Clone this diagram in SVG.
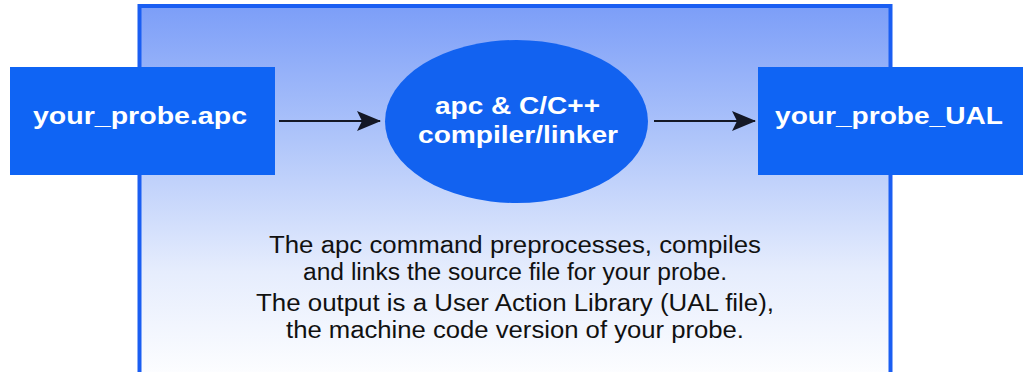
<svg xmlns="http://www.w3.org/2000/svg" width="1027" height="372" viewBox="0 0 1027 372">
  <defs>
    <linearGradient id="panelGrad" x1="0" y1="0" x2="0" y2="1">
      <stop offset="0" stop-color="#7c9ef8"/>
      <stop offset="0.35" stop-color="#afc5fa"/>
      <stop offset="0.7" stop-color="#e6edfd"/>
      <stop offset="1" stop-color="#ffffff"/>
    </linearGradient>
    <marker id="arrow" viewBox="0 0 24 20" refX="23" refY="10" markerWidth="24" markerHeight="20" markerUnits="userSpaceOnUse" orient="auto">
      <path d="M0,0 L24,10 L0,20 L5,10 Z" fill="#141826"/>
    </marker>
    <style>
      .box { fill: #0f64f4; }
      .label { font-family: "Liberation Sans", Arial, sans-serif; font-weight: bold; fill: #ffffff; text-anchor: middle; }
      .note { font-family: "Liberation Sans", Arial, sans-serif; fill: #111111; text-anchor: middle; font-size: 23px; }
      .conn { stroke: #141826; stroke-width: 2.2; fill: none; }
    </style>
  </defs>

  <rect width="1027" height="372" fill="#ffffff"/>

  <g id="panel">
    <rect x="139.5" y="6" width="751" height="380" fill="url(#panelGrad)" stroke="#1a5ef2" stroke-width="4"/>
    <text class="note" x="515" y="253" textLength="492" lengthAdjust="spacingAndGlyphs">The apc command preprocesses, compiles</text>
    <text class="note" x="515" y="280" textLength="424" lengthAdjust="spacingAndGlyphs">and links the source file for your probe.</text>
    <text class="note" x="515" y="311" textLength="518" lengthAdjust="spacingAndGlyphs">The output is a User Action Library (UAL file),</text>
    <text class="note" x="515" y="338" textLength="458" lengthAdjust="spacingAndGlyphs">the machine code version of your probe.</text>
  </g>

  <g id="connectors">
    <line class="conn" x1="279" y1="121" x2="380" y2="121" marker-end="url(#arrow)"/>
    <line class="conn" x1="654" y1="121" x2="755" y2="121" marker-end="url(#arrow)"/>
  </g>

  <g id="node-source">
    <rect class="box" x="10" y="67" width="265" height="108"/>
    <text class="label" x="140" y="124" font-size="24" textLength="214" lengthAdjust="spacingAndGlyphs">your_probe.apc</text>
  </g>

  <g id="node-compiler">
    <ellipse cx="516.5" cy="121.5" rx="131.5" ry="81.5" fill="#1262f0"/>
    <text class="label" x="517.5" y="114" font-size="24" textLength="165" lengthAdjust="spacingAndGlyphs">apc &amp; C/C++</text>
    <text class="label" x="518" y="143" font-size="24" textLength="200" lengthAdjust="spacingAndGlyphs">compiler/linker</text>
  </g>

  <g id="node-output">
    <rect class="box" x="758" y="67" width="265" height="108"/>
    <text class="label" x="889" y="124" font-size="24" textLength="228" lengthAdjust="spacingAndGlyphs">your_probe_UAL</text>
  </g>
</svg>
